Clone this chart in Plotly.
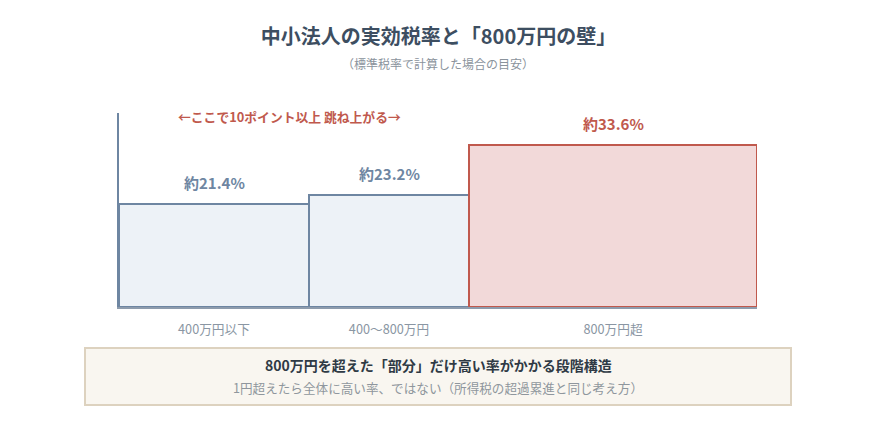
import plotly.graph_objects as go

# 区分ごとの実効税率（目安）
categories = ["400万円以下", "400〜800万円", "800万円超"]
rates = [21.4, 23.2, 33.6]
rate_labels = ["約21.4%", "約23.2%", "約33.6%"]

title = "中小法人の実効税率と「800万円の壁」"
subtitle = "（標準税率で計算した場合の目安）"
jump_note = "←ここで10ポイント以上 跳ね上がる→"
box_head = "800万円を超えた「部分」だけ高い率がかかる段階構造"
box_sub = "1円超えたら全体に高い率、ではない（所得税の超過累進と同じ考え方）"

FONT = "Noto Sans CJK JP"
BLUE_LINE = "#6e86a2"
BLUE_FILL = "#edf2f7"
RED_LINE = "#c0594d"
RED_FILL = "#f2d9d9"

# bar edges along x (px-like units, plot area 638 wide)
edges = [0, 190, 350, 638]
centers = [(a + b) / 2 for a, b in zip(edges[:-1], edges[1:])]
widths = [b - a for a, b in zip(edges[:-1], edges[1:])]

fills = [BLUE_FILL, BLUE_FILL, RED_FILL]
lines = [BLUE_LINE, BLUE_LINE, RED_LINE]

fig = go.Figure()
fig.add_trace(go.Bar(
    x=centers, y=rates, width=widths,
    marker=dict(color=fills, line=dict(color=lines, width=2)),
    hoverinfo="skip",
))

for c, r, t, col in zip(centers, rates, rate_labels, lines):
    fig.add_annotation(x=c, y=r, text="<b>%s</b>" % t, showarrow=False,
                       yanchor="bottom", yshift=9,
                       font=dict(size=15, color=col, family=FONT))

anns = [
    dict(x=0.5, y=1.2526, text=subtitle, font=dict(size=12, color="#8a939c")),
    dict(x=0.268, y=0.9845, text="<b>%s</b>" % jump_note,
         font=dict(size=12.8, color=RED_LINE)),
    dict(x=0.5, y=-0.299, text="<b>%s</b>" % box_head,
         font=dict(size=14, color="#2f3a45")),
    dict(x=0.5, y=-0.4175, text=box_sub, font=dict(size=12.6, color="#8f969d")),
]
for a in anns:
    a["font"]["family"] = FONT
    fig.add_annotation(xref="paper", yref="paper", showarrow=False,
                       xanchor="center", yanchor="middle", **a)

fig.add_shape(type="rect", xref="paper", yref="paper",
              x0=-0.0533, x1=1.0533, y0=-0.505, y1=-0.2113,
              fillcolor="#f9f6f0", line=dict(color="#ddd2bf", width=2),
              layer="below")

fig.update_layout(
    width=875, height=429,
    margin=dict(l=111, r=126, t=105, b=130),
    paper_bgcolor="white", plot_bgcolor="white",
    showlegend=False, bargap=0,
    font=dict(family=FONT),
    title=dict(text="<b>%s</b>" % title, x=0.492, xanchor="center",
               y=0.9324, yanchor="middle",
               font=dict(size=20, color="#3d4e61", family=FONT)),
    xaxis=dict(range=[edges[0], edges[-1]], showgrid=False, zeroline=False,
               showline=True, linecolor="#8e9cad", linewidth=2,
               tickvals=centers, ticktext=categories, ticks="",
               ticklabelstandoff=10,
               tickfont=dict(size=12.7, color="#8a96a3", family=FONT)),
    yaxis=dict(range=[0, 40.2], showgrid=False, zeroline=False,
               showline=True, linecolor=BLUE_LINE, linewidth=2,
               showticklabels=False, ticks=""),
)

fig.write_html("out.html")
